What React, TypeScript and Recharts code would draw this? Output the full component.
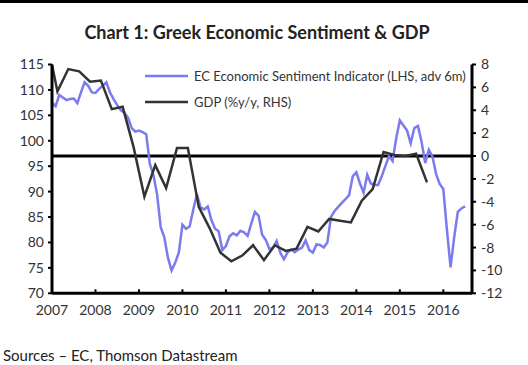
import React from "react";
import {
  ComposedChart,
  Line,
  XAxis,
  YAxis,
  ReferenceLine,
  Legend,
} from "recharts";

// EC Economic Sentiment Indicator, advanced 6m, monthly from Jan 2007 (LHS)
const esiStartYear = 2007;
const esiValues = [
  107.5, 106.8, 109.0, 108.5, 108.0, 108.2, 108.3, 107.4, 109.5, 111.5, 110.8, 109.5, // 2007
  109.4, 110.2, 110.8, 111.5, 109.5, 108.2, 107.0, 106.0, 105.5, 104.5, 102.5, 101.8, // 2008
  102.0, 101.7, 101.3, 95.5, 93.2, 89.5, 83.0, 81.0, 77.0, 74.5, 76.0, 78.0, // 2009
  83.5, 82.7, 83.2, 86.5, 89.5, 86.9, 86.5, 87.1, 84.4, 82.7, 82.2, 78.5, // 2010
  79.3, 81.2, 81.8, 81.4, 82.3, 82.0, 81.3, 83.7, 86.0, 85.3, 81.5, 80.5, // 2011
  78.7, 79.0, 80.3, 78.0, 76.7, 78.0, 78.6, 78.1, 78.6, 79.0, 80.4, 78.5, // 2012
  78.0, 79.6, 79.5, 79.0, 80.0, 85.0, 86.2, 87.0, 87.8, 88.5, 89.3, 93.0, // 2013
  93.8, 91.6, 89.8, 93.3, 91.6, 91.3, 91.3, 93.0, 95.0, 97.0, 96.0, 100.5, // 2014
  104.0, 103.0, 102.0, 99.5, 102.5, 102.9, 99.8, 95.6, 98.2, 96.9, 93.5, 91.5, // 2015
  90.5, 82.5, 75.1, 81.0, 86.0, 86.7, 87.1, // 2016
];

// GDP %y/y, quarterly (RHS)
const gdpQuarters = [
  "2006Q4",
  "2007Q1", "2007Q2", "2007Q3", "2007Q4",
  "2008Q1", "2008Q2", "2008Q3", "2008Q4",
  "2009Q1", "2009Q2", "2009Q3", "2009Q4",
  "2010Q1", "2010Q2", "2010Q3", "2010Q4",
  "2011Q1", "2011Q2", "2011Q3", "2011Q4",
  "2012Q1", "2012Q2", "2012Q3", "2012Q4",
  "2013Q1", "2013Q2", "2013Q3", "2013Q4",
  "2014Q1", "2014Q2", "2014Q3", "2014Q4",
  "2015Q1", "2015Q2", "2015Q3",
];
const gdpValues = [
  10.3,
  5.65, 7.6, 7.4, 6.5,
  6.6, 4.1, 4.3, 0.8,
  -3.55, -0.8, -2.8, 0.7,
  0.7, -4.45, -6.3, -8.45,
  -9.2, -8.7, -7.8, -9.1,
  -7.8, -8.3, -8.1, -6.2,
  -6.6, -5.5, -5.65, -5.8,
  -3.9, -2.9, 0.35, 0.1,
  0.0, 0.2, -2.3,
];

const yearTicks = [2007, 2008, 2009, 2010, 2011, 2012, 2013, 2014, 2015, 2016];
const leftTicks = [70, 75, 80, 85, 90, 95, 100, 105, 110, 115];
const rightTicks = [-12, -10, -8, -6, -4, -2, 0, 2, 4, 6, 8];

const esiName = "EC Economic Sentiment Indicator (LHS, adv 6m)";
const gdpName = "GDP (%y/y, RHS)";

const esiData = esiValues.map((v, i) => ({ t: esiStartYear + i / 12, esi: v }));
const gdpData = gdpQuarters.map((q, i) => ({
  t: Number(q.slice(0, 4)) + (Number(q.slice(5)) - 0.5) / 4,
  gdp: gdpValues[i],
}));

const FONT = "Lato, 'Open Sans', sans-serif";
const tickStyle = { fontSize: 14, fill: "#333", fontFamily: FONT };

function LegendBox({ payload }: any) {
  return (
    <div style={{ fontFamily: FONT }}>
      {(payload || []).map((p: any) => (
        <div key={p.value} style={{ display: "flex", alignItems: "center", height: 25.7 }}>
          <svg width={43} height={6} style={{ display: "block" }}>
            <line x1={0} y1={3} x2={43} y2={3} stroke={p.color} strokeWidth={2.5} />
          </svg>
          <span style={{ marginLeft: 6, fontSize: 13, color: "#333", whiteSpace: "nowrap" }}>
            {p.value}
          </span>
        </div>
      ))}
    </div>
  );
}

export default function App() {
  return (
    <div
      style={{
        position: "absolute",
        left: 0,
        top: 0,
        width: 528,
        height: 365,
        background: "#fff",
        fontFamily: FONT,
        overflow: "hidden",
      }}
    >
      <div style={{ position: "absolute", left: 0, top: 0, width: 528, height: 3, background: "#000" }} />
      <div
        style={{
          position: "absolute",
          left: 0,
          top: 21,
          width: 514,
          textAlign: "center",
          fontSize: 18,
          fontWeight: 700,
          color: "#222",
        }}
      >
        Chart 1: Greek Economic Sentiment &amp; GDP
      </div>

      <div style={{ position: "absolute", left: 0, top: 0 }}>
        <ComposedChart
          width={528}
          height={330}
          margin={{ top: 64.5, right: 6, bottom: 6.7, left: 12 }}
        >
          <XAxis
            dataKey="t"
            type="number"
            domain={[2007, 2016.66]}
            allowDataOverflow
            ticks={yearTicks}
            tickFormatter={(v: number) => String(Math.round(v))}
            tick={tickStyle}
            tickSize={-4}
            tickMargin={16}
            height={30}
            axisLine={{ stroke: "#000", strokeWidth: 3 }}
            tickLine={{ stroke: "#000", strokeWidth: 2 }}
          />
          <YAxis
            yAxisId="left"
            orientation="left"
            domain={[70, 115]}
            ticks={leftTicks}
            width={40}
            tick={tickStyle}
            tickSize={4}
            tickMargin={4}
            axisLine={{ stroke: "#000", strokeWidth: 3 }}
            tickLine={{ stroke: "#000", strokeWidth: 2 }}
          />
          <YAxis
            yAxisId="right"
            orientation="right"
            domain={[-12, 8]}
            allowDataOverflow
            ticks={rightTicks}
            width={50}
            tick={tickStyle}
            tickSize={4}
            tickMargin={5}
            axisLine={{ stroke: "#000", strokeWidth: 3 }}
            tickLine={{ stroke: "#000", strokeWidth: 2 }}
          />
          <ReferenceLine yAxisId="right" y={0} stroke="#000" strokeWidth={3} />
          <Legend
            layout="vertical"
            align="center"
            verticalAlign="middle"
            content={<LegendBox />}
            wrapperStyle={{ top: 63, left: 145, width: 330 }}
          />
          <Line
            yAxisId="left"
            data={esiData}
            dataKey="esi"
            name={esiName}
            stroke="#7b7bef"
            strokeWidth={2.5}
            dot={false}
            isAnimationActive={false}
          />
          <Line
            yAxisId="right"
            data={gdpData}
            dataKey="gdp"
            name={gdpName}
            stroke="#333333"
            strokeWidth={2.5}
            dot={false}
            isAnimationActive={false}
          />
        </ComposedChart>
      </div>

      <div
        style={{
          position: "absolute",
          left: 3,
          top: 346,
          fontSize: 15,
          color: "#222",
          whiteSpace: "nowrap",
        }}
      >
        Sources – EC, Thomson Datastream
      </div>
    </div>
  );
}
